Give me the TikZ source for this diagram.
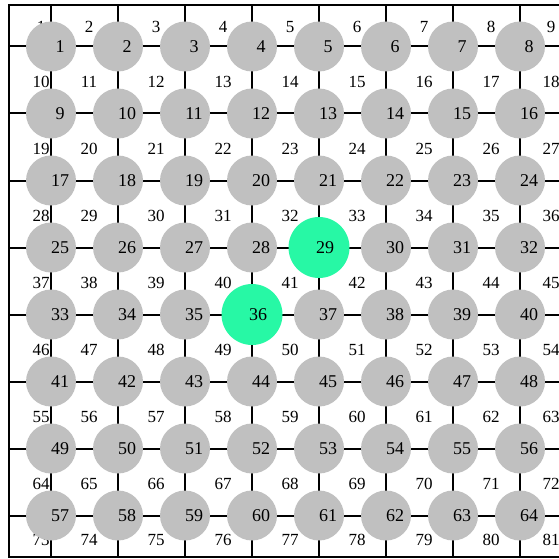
\documentclass[tikz,border=0pt]{standalone}
\usepackage{fontspec}
\setmainfont{Liberation Serif}
\begin{document}
\begin{tikzpicture}[x=1pt,y=-1pt,
  linea/.style={line width=2pt, black},
  cella/.style={circle, fill=grigio, minimum size=50pt, inner sep=0pt},
  scelta/.style={circle, fill=verde, minimum size=61pt, inner sep=0pt},
  numero/.style={inner sep=0pt, font=\fontsize{18}{18}\selectfont},
  etich/.style={inner sep=0pt, font=\fontsize{17}{17}\selectfont}]

% Colori
\definecolor{grigio}{HTML}{C0C0C0}
\definecolor{verde}{HTML}{27F8A5}

\useasboundingbox (0,0) rectangle (559,559);

% Cornice
\coordinate (NO) at (9,5);
\coordinate (SE) at (562,557);
\draw[linea] (NO) rectangle (SE);

% Linee della griglia
\foreach \i in {0,...,7} {
  \coordinate (su\i) at ({51+67*\i},5);
  \coordinate (giu\i) at ({51+67*\i},557);
  \draw[linea] (su\i) -- (giu\i);
  \coordinate (sx\i) at (9,{46.5+67*\i});
  \coordinate (dx\i) at (562,{46.5+67*\i});
  \draw[linea] (sx\i) -- (dx\i);
}

% Etichette degli incroci (1..81)
\foreach \y [count=\r from 0] in {27,82,149,216,283,350,417,484,540} {
  \foreach \x [count=\c] in {41,89,156,223,290,357,424,491,551} {
    \pgfmathtruncatemacro\k{9*\r+\c}
    \node[etich] (l\k) at (\x,\y) {\k};
  }
}

% Celle (1..64), 29 e 36 evidenziate
\foreach \r in {0,...,7} {
  \foreach \c in {1,...,8} {
    \pgfmathtruncatemacro\k{8*\r+\c}
    \def\stile{cella}\def\sp{9pt}
    \ifnum\k=29 \def\stile{scelta}\def\sp{6pt}\fi
    \ifnum\k=36 \def\stile{scelta}\def\sp{6pt}\fi
    \node[\stile] (c\k) at ({51+67*(\c-1)},{46.5+67*\r}) {};
    \node[numero] (n\k) at ([xshift=\sp]c\k.center) {\k};
  }
}

\end{tikzpicture}
\end{document}
